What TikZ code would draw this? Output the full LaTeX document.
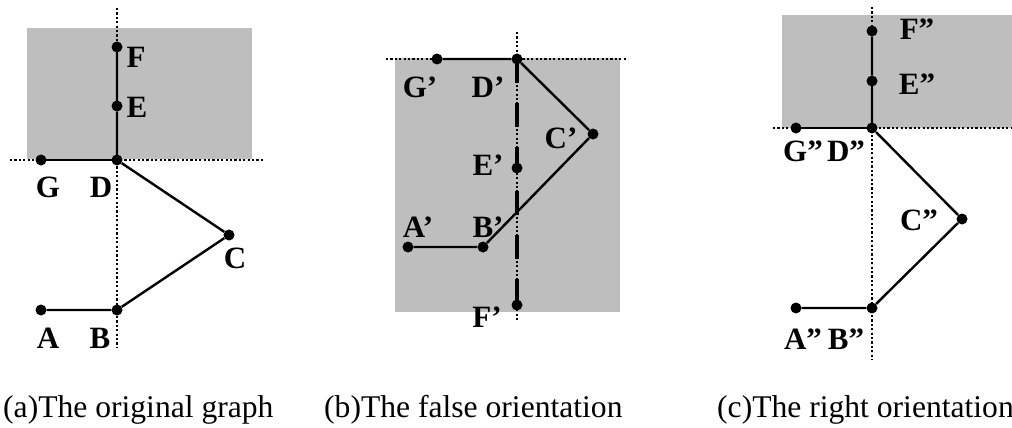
\documentclass[tikz,border=0pt]{standalone}
\usepackage{fontspec}
\setmainfont{Liberation Serif}
\begin{document}
\begin{tikzpicture}[x=1pt,y=-1pt,
  greyzone/.style={fill={rgb,255:red,190;green,190;blue,190},draw=none},
  guideline/.style={line width=1.4pt,dash pattern=on 2.2pt off 2.2pt},
  segline/.style={line width=2.4pt},
  thickdashline/.style={line width=3.2pt,dash pattern=on 24pt off 20pt},
  dotnode/.style={circle,fill=black,inner sep=0pt,minimum size=11pt},
  labtxt/.style={font=\bfseries\fontsize{31}{36}\selectfont,anchor=base,inner sep=0pt},
  captxt/.style={font=\fontsize{31.6}{38}\selectfont,anchor=base west,inner sep=0pt}]
\useasboundingbox (0,0) rectangle (1012,428);

% ---------- panel (a)
\fill[greyzone] (27,28) rectangle (252,159);
\coordinate (av1) at (117,8);  \coordinate (av2) at (117,347);
\coordinate (ah1) at (10,160); \coordinate (ah2) at (265,160);
\draw[guideline] (av1) -- (av2);
\draw[guideline] (ah1) -- (ah2);
\node[dotnode] (aF) at (117,47) {};
\node[dotnode] (aE) at (117,106) {};
\node[dotnode] (aD) at (117,160) {};
\node[dotnode] (aG) at (41,160) {};
\node[dotnode] (aC) at (229,235) {};
\node[dotnode] (aB) at (117,310) {};
\node[dotnode] (aA) at (41,310) {};
\draw[segline] (aA) -- (aB) -- (aC) -- (aD) -- (aE) -- (aF);
\draw[segline] (aG) -- (aD);
\node[labtxt] (laF) at (136,67) {F};
\node[labtxt] (laE) at (137,117) {E};
\node[labtxt] (laG) at (48,197) {G};
\node[labtxt] (laD) at (101,197) {D};
\node[labtxt] (laC) at (235,268) {C};
\node[labtxt] (laA) at (48,348) {A};
\node[labtxt] (laB) at (100,348) {B};

% ---------- panel (b)
\fill[greyzone] (395,58) rectangle (620,312);
\coordinate (bv1) at (517,32);  \coordinate (bv2) at (517,322);
\coordinate (bh1) at (386,59);  \coordinate (bh2) at (628,59);
\draw[guideline] (bv1) -- (bv2);
\draw[guideline] (bh1) -- (bh2);
\node[dotnode] (bG) at (437,59) {};
\node[dotnode] (bD) at (517,59) {};
\node[dotnode] (bC) at (593,134) {};
\node[dotnode] (bE) at (517,168) {};
\node[dotnode] (bB) at (483,247) {};
\node[dotnode] (bA) at (408,247) {};
\node[dotnode] (bF) at (517,305) {};
\draw[thickdashline] (bD.center) -- (bF.center);
\draw[segline] (bA) -- (bB) -- (bC) -- (bD) -- (bG);
\node[labtxt] (lbG) at (420,97) {G’};
\node[labtxt] (lbD) at (488,97) {D’};
\node[labtxt] (lbC) at (561,148) {C’};
\node[labtxt] (lbE) at (488,175) {E’};
\node[labtxt] (lbA) at (418,237) {A’};
\node[labtxt] (lbB) at (488,237) {B’};
\node[labtxt] (lbF) at (487,327) {F’};

% ---------- panel (c)
\fill[greyzone] (782,15) rectangle (1012,128);
\coordinate (cv1) at (872,7);   \coordinate (cv2) at (872,360);
\coordinate (ch1) at (773,128); \coordinate (ch2) at (1012,128);
\draw[guideline] (cv1) -- (cv2);
\draw[guideline] (ch1) -- (ch2);
\node[dotnode] (cF) at (872,31) {};
\node[dotnode] (cE) at (872,81) {};
\node[dotnode] (cD) at (872,128) {};
\node[dotnode] (cG) at (796,128) {};
\node[dotnode] (cC) at (962,219) {};
\node[dotnode] (cB) at (872,308) {};
\node[dotnode] (cA) at (796,308) {};
\draw[segline] (cA) -- (cB) -- (cC) -- (cD) -- (cE) -- (cF);
\draw[segline] (cG) -- (cD);
\node[labtxt] (lcF) at (917,40) {F”};
\node[labtxt] (lcE) at (917,95) {E”};
\node[labtxt] (lcG) at (803,161) {G”};
\node[labtxt] (lcD) at (846,161) {D”};
\node[labtxt] (lcC) at (919,230) {C”};
\node[labtxt] (lcA) at (803,349) {A”};
\node[labtxt] (lcB) at (846,349) {B”};

% ---------- captions
\node[captxt] (capa) at (3,417) {(a)The original graph};
\node[captxt] (capb) at (324,417) {(b)The false orientation};
\node[captxt] (capc) at (717,417) {(c)The right orientation};
\end{tikzpicture}
\end{document}
